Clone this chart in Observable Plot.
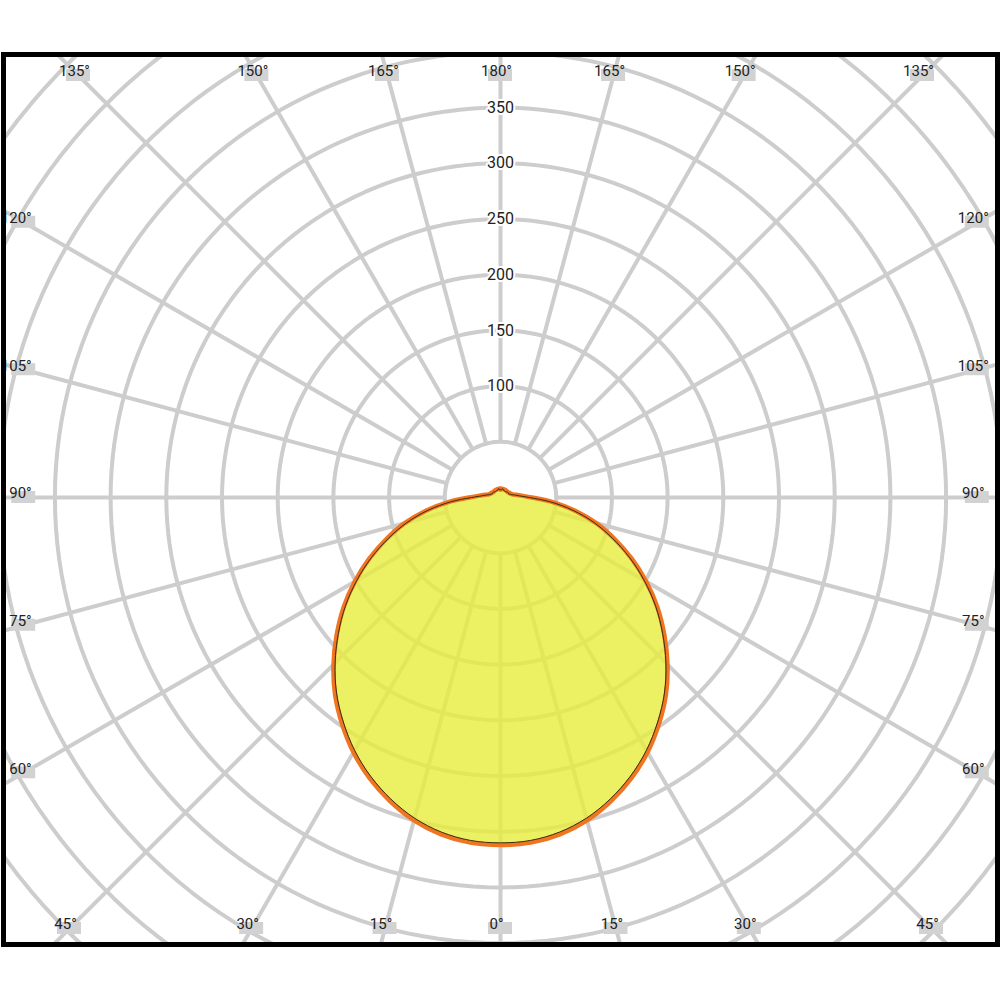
<!DOCTYPE html>
<html>
<head>
<meta charset="utf-8">
<script src="https://cdn.jsdelivr.net/npm/d3@7"></script>
<script src="https://cdn.jsdelivr.net/npm/@observablehq/plot@0.6"></script>
<style>
  html, body { margin: 0; padding: 0; background: #fff; }
</style>
</head>
<body>
<div id="chart"></div>
<script>
// ---- data (luminous intensity, cd/klm) ----
const angles = [0,5,10,15,20,25,30,35,40,45,50,55,60,65,70,75,80,85,90,95,100,105,110,115,120,125,130,135,140,145,150,155,160,165,170,175,180];
const intensityC0 = [312,311,307,300,290,278,264,248,231,212,192,172,151,130,109,89,68,47,28,19,14,11,10,9,9,8,8,8,8,8,8,8,8,8,8,8,7];
const intensityC90 = [310,309,305,298,288,276,262,246,229,210,190,170,149,128,107,87,66,45,26,17,13,10,9,8,8,8,8,7,7,7,7,7,7,8,8,7,7];
const radiusTicks = [50,100,150,200,250,300,350,400,450,500,550,600,650];
const radiusLabels = [100,150,200,250,300,350];
const gridAngles = [0,15,30,45,60,75,90,105,120,135,150,165,180,195,210,225,240,255,270,285,300,315,330,345];
const angleLabels = [0,15,30,45,60,75,90,105,120,135,150,165,180];

// ---- geometry helpers ----
const W = 1000, H = 1000;
const mL = 3, mR = 3, mT = 54, mB = 56;
const cx = 500, cy = 497;
const k = 1.114; // px per unit
const xDom = [-(cx - mL) / k, (W - mR - cx) / k];
const yDom = [-(H - mB - cy) / k, (cy - mT) / k];
const rad = d => d * Math.PI / 180;
const px = (r, g, side) => side * r * Math.sin(rad(g));
const py = (r, g) => -r * Math.cos(rad(g));

function closed(vals) {
  const pts = [];
  for (let i = angles.length - 1; i >= 0; i--) pts.push({x: px(vals[i], angles[i], -1), y: py(vals[i], angles[i])});
  for (let i = 1; i < angles.length - 1; i++) pts.push({x: px(vals[i], angles[i], 1), y: py(vals[i], angles[i])});
  return pts;
}
const curveA = closed(intensityC0);
const curveB = closed(intensityC90);

const circlePts = [];
for (const r of radiusTicks) for (let a = 0; a <= 360; a += 2) circlePts.push({r, x: r * Math.sin(rad(a)), y: r * Math.cos(rad(a))});
const radials = gridAngles.map(a => ({x1: 50 * Math.sin(rad(a)), y1: 50 * Math.cos(rad(a)), x2: 700 * Math.sin(rad(a)), y2: 700 * Math.cos(rad(a))}));

const SX = 428, TOP = (cy - 75) / k, BOT = (928 - cy) / k;
const labelPts = [];
for (const g of angleLabels) {
  const sides = (g === 0 || g === 180) ? [1] : [-1, 1];
  for (const s of sides) {
    const dx = s * Math.sin(rad(g)), dy = -Math.cos(rad(g));
    let t = Infinity;
    if (Math.abs(dx) > 1e-9) t = Math.min(t, SX / Math.abs(dx));
    if (dy > 1e-9) t = Math.min(t, TOP / dy);
    if (dy < -1e-9) t = Math.min(t, BOT / -dy);
    const onSide = Math.abs(dx) > 1e-9 && Math.abs(SX / Math.abs(dx) - t) < 1e-6;
    labelPts.push({x: dx * t, y: dy * t, text: g + "°", left: onSide && s < 0});
  }
}
const bw = 12 / k, bh = 6 / k;

const chart = Plot.plot({
  width: W, height: H,
  marginLeft: mL, marginRight: mR, marginTop: mT, marginBottom: mB,
  x: {domain: xDom, axis: null},
  y: {domain: yDom, axis: null},
  style: {fontFamily: "Roboto, 'Noto Sans', sans-serif", fontSize: 15, background: "#fff"},
  marks: [
    Plot.line(circlePts, {x: "x", y: "y", z: "r", stroke: "#cdcdcd", strokeWidth: 4, clip: true}),
    Plot.link(radials, {x1: "x1", y1: "y1", x2: "x2", y2: "y2", stroke: "#cdcdcd", strokeWidth: 4, clip: true}),
    Plot.rect(labelPts, {x1: d => d.x - bw, x2: d => d.x + bw, y1: d => d.y - bh, y2: d => d.y + bh, fill: "#d2d2d2", clip: true}),
    Plot.text(labelPts.filter(d => !d.left), {x: "x", y: "y", text: "text", dx: -4, dy: -4, fill: "#222", fontSize: 15, clip: true}),
    Plot.text(labelPts.filter(d => d.left), {x: "x", y: "y", text: "text", dx: 8, dy: -4, textAnchor: "end", fill: "#222", fontSize: 15, clip: true}),
    Plot.line(curveA, {x: "x", y: "y", fill: "#e6ee3c", fillOpacity: 0.8, stroke: "none", curve: "catmull-rom-closed", clip: true}),
    Plot.line(curveA, {x: "x", y: "y", stroke: "#ef7521", strokeWidth: 4.5, curve: "catmull-rom-closed", clip: true}),
    Plot.line(curveB, {x: "x", y: "y", stroke: "#3b2d12", strokeWidth: 1, curve: "catmull-rom-closed", clip: true}),
    Plot.text(radiusLabels, {x: 0, y: d => d, text: d => String(d), fill: "#222", stroke: "#fff", strokeWidth: 4, fontSize: 16}),
    Plot.frame({stroke: "#000", strokeWidth: 5})
  ]
});
document.getElementById("chart").appendChild(chart);
</script>
</body>
</html>
